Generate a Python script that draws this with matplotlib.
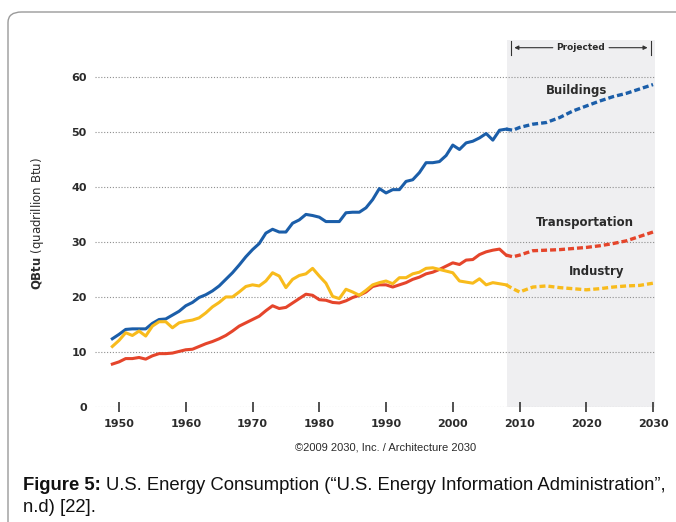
import matplotlib.pyplot as plt
import numpy as np
from matplotlib.patches import FancyBboxPatch

plt.rcParams['font.family'] = ['Liberation Sans', 'DejaVu Sans']

# historical data (1949-2008), QBtu
hist_years = list(range(1949, 2009))
buildings = [12.4, 13.2, 14.1, 14.2, 14.2, 14.2, 15.2, 15.9, 16.0, 16.7,
             17.4, 18.4, 19.0, 19.9, 20.4, 21.1, 22.0, 23.2, 24.4, 25.8,
             27.3, 28.6, 29.7, 31.6, 32.3, 31.8, 31.8, 33.4, 34.0, 35.0,
             34.8, 34.5, 33.7, 33.7, 33.7, 35.3, 35.4, 35.4, 36.2, 37.7,
             39.7, 38.9, 39.5, 39.5, 41.0, 41.3, 42.6, 44.4, 44.4, 44.6,
             45.7, 47.6, 46.8, 48.0, 48.3, 48.9, 49.7, 48.5, 50.3, 50.5]
transportation = [7.8, 8.2, 8.8, 8.8, 9.0, 8.7, 9.3, 9.7, 9.7, 9.8,
                  10.1, 10.4, 10.5, 11.0, 11.5, 11.9, 12.4, 13.0, 13.8, 14.7,
                  15.3, 15.9, 16.5, 17.5, 18.4, 17.9, 18.1, 18.9, 19.7, 20.5,
                  20.3, 19.5, 19.4, 19.0, 18.9, 19.3, 19.9, 20.3, 20.9, 21.9,
                  22.2, 22.2, 21.8, 22.2, 22.6, 23.2, 23.6, 24.2, 24.5, 25.0,
                  25.6, 26.2, 25.9, 26.7, 26.8, 27.7, 28.2, 28.5, 28.7, 27.6]
industry = [11.0, 12.1, 13.5, 13.0, 13.8, 12.9, 14.7, 15.5, 15.5, 14.4,
            15.3, 15.6, 15.8, 16.2, 17.1, 18.2, 19.0, 20.0, 20.0, 20.9,
            21.9, 22.2, 22.0, 22.9, 24.4, 23.8, 21.7, 23.2, 23.9, 24.2,
            25.2, 23.8, 22.5, 20.1, 19.7, 21.4, 20.9, 20.3, 21.2, 22.2,
            22.6, 22.9, 22.4, 23.5, 23.5, 24.2, 24.5, 25.2, 25.3, 25.0,
            24.7, 24.4, 22.9, 22.7, 22.5, 23.3, 22.2, 22.6, 22.4, 22.2]

# projected data (2008-2030)
proj_years = [2008, 2009, 2010, 2012, 2014, 2016, 2018, 2020, 2022, 2024, 2026, 2028, 2030]
buildings_proj = [50.5, 50.3, 50.8, 51.4, 51.7, 52.6, 53.8, 54.7, 55.6, 56.4, 57.0, 57.8, 58.6]
transportation_proj = [27.6, 27.3, 27.6, 28.4, 28.5, 28.6, 28.8, 29.0, 29.3, 29.7, 30.2, 31.0, 31.8]
industry_proj = [22.2, 21.5, 20.9, 21.8, 22.0, 21.7, 21.5, 21.3, 21.5, 21.8, 22.0, 22.1, 22.5]

xticks = [1950, 1960, 1970, 1980, 1990, 2000, 2010, 2020, 2030]
yticks = [0, 10, 20, 30, 40, 50, 60]

c_blue = '#1b5ea9'
c_red = '#e5452b'
c_yellow = '#f8bb1c'
c_text = '#2b2b2b'

fig = plt.figure(figsize=(6.76, 5.22), dpi=100)
ax = fig.add_axes([0.1405, 0.2203, 0.8285, 0.7031])

# projected shading
ax.axvspan(2008.1, 2030.3, color='#efeff1', zorder=0, lw=0)

for y in yticks:
    ax.axhline(y, color='#8f8f8f', lw=0.8, ls=(0, (1, 1.6)), zorder=1)

ax.plot(hist_years, buildings, color=c_blue, lw=2.2, zorder=3, solid_joinstyle='round')
ax.plot(hist_years, transportation, color=c_red, lw=2.2, zorder=3, solid_joinstyle='round')
ax.plot(hist_years, industry, color=c_yellow, lw=2.2, zorder=3, solid_joinstyle='round')
ax.plot(proj_years, buildings_proj, color=c_blue, lw=2.4, ls=(0, (1.8, 0.9)), zorder=3)
ax.plot(proj_years, transportation_proj, color=c_red, lw=2.4, ls=(0, (1.8, 0.9)), zorder=3)
ax.plot(proj_years, industry_proj, color=c_yellow, lw=2.4, ls=(0, (1.8, 0.9)), zorder=3)

ax.set_xlim(1946.4, 2030.3)
ax.set_ylim(0, 66.7)
for s in ax.spines.values():
    s.set_visible(False)
ax.set_xticks(xticks)
ax.set_yticks(yticks)
ax.tick_params(axis='x', direction='inout', length=7, width=1.2, color='#333333',
               labelsize=8, labelcolor=c_text, pad=5)
ax.tick_params(axis='y', length=0, labelsize=8, labelcolor=c_text, pad=6)
for lbl in ax.get_xticklabels() + ax.get_yticklabels():
    lbl.set_fontweight('bold')
    lbl.set_family('DejaVu Sans')

ax.set_ylabel(r'$\bf{QBtu}$ (quadrillion Btu)', fontsize=8.5, color=c_text, labelpad=18,
              family='DejaVu Sans')

# series labels
ax.text(2018.6, 57.5, 'Buildings', ha='center', va='center', fontsize=8.5,
        fontweight='bold', color=c_text, family='DejaVu Sans')
ax.text(2019.8, 33.6, 'Transportation', ha='center', va='center', fontsize=8.5,
        fontweight='bold', color=c_text, family='DejaVu Sans')
ax.text(2021.6, 24.7, 'Industry', ha='center', va='center', fontsize=8.5,
        fontweight='bold', color=c_text, family='DejaVu Sans')

# projected marker
ax.text(2019.2, 65.3, 'Projected', ha='center', va='center', fontsize=6.5,
        fontweight='bold', color=c_text, family='DejaVu Sans')
ax.annotate('', xy=(2008.8, 65.3), xytext=(2015.4, 65.3),
            arrowprops=dict(arrowstyle='-|>', color='#333333', lw=0.8, mutation_scale=6))
ax.annotate('', xy=(2029.6, 65.3), xytext=(2023.0, 65.3),
            arrowprops=dict(arrowstyle='-|>', color='#333333', lw=0.8, mutation_scale=6))
ax.plot([2008.7, 2008.7], [63.9, 66.6], color='#333333', lw=0.8, clip_on=False)
ax.plot([2029.7, 2029.7], [63.9, 66.6], color='#333333', lw=0.8, clip_on=False)

# credit and caption
fig.text(386 / 676, 1 - 447 / 522, '\u00a92009 2030, Inc. / Architecture 2030',
         ha='center', va='center', fontsize=8, color=c_text)
t1 = fig.text(23 / 676, 1 - 485 / 522, 'Figure 5:', ha='left', va='center', fontsize=13.3,
              fontweight='bold', color='#111111')
ax.annotate('U.S. Energy Consumption (\u201cU.S. Energy Information Administration\u201d,',
            xy=(1, 0.5), xycoords=t1, xytext=(3.5, 0), textcoords='offset points',
            ha='left', va='center', fontsize=13.3, color='#111111', annotation_clip=False)
fig.text(23 / 676, 1 - 508 / 522, 'n.d) [22].', ha='left', va='center', fontsize=13.3,
         color='#111111')

# frame around the figure
frame = FancyBboxPatch((8 / 676, -0.05), 1.2, 1 - 12 / 522 + 0.05,
                       boxstyle='round,pad=0,rounding_size=0.02',
                       transform=fig.transFigure, fill=False, ec='#9a9a9a', lw=1.0)
fig.patches.append(frame)

fig.savefig('out.png', dpi=100)
